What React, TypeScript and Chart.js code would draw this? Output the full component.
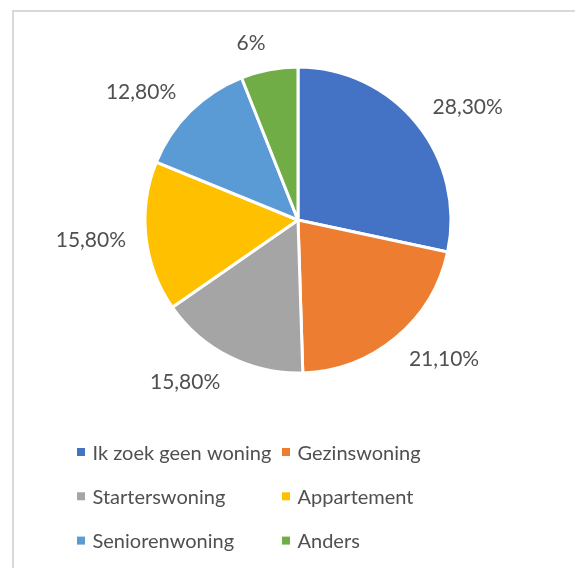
import React, { useEffect, useRef } from "react";
import { Chart, registerables } from "chart.js";

Chart.register(...registerables);

// ---- data ----
const categories = [
  "Ik zoek geen woning",
  "Gezinswoning",
  "Starterswoning",
  "Appartement",
  "Seniorenwoning",
  "Anders",
];
const percentages = [28.3, 21.1, 15.8, 15.8, 12.8, 6];
const colors = ["#4472C4", "#ED7D31", "#A5A5A5", "#FFC000", "#5B9BD5", "#70AD47"];

// ---- styling ----
const FONT = "Lato, 'Open Sans', sans-serif";
const TEXT_COLOR = "#505050";
const LABEL_FONT_SIZE = 21;
const LEGEND_FONT_SIZE = 20;
const CAP_H = 15;

const fmt = (v: number) =>
  Number.isInteger(v) ? `${v}%` : v.toFixed(2).replace(".", ",") + "%";

const labelPlugin = {
  id: "outsideLabels",
  afterDatasetsDraw(chart: any) {
    const ctx = chart.ctx;
    const meta = chart.getDatasetMeta(0);
    ctx.save();
    ctx.font = `${LABEL_FONT_SIZE}px ${FONT}`;
    ctx.fillStyle = TEXT_COLOR;
    ctx.textAlign = "center";
    ctx.textBaseline = "alphabetic";
    meta.data.forEach((arc: any, i: number) => {
      const { x, y, startAngle, endAngle, outerRadius } = arc.getProps(
        ["x", "y", "startAngle", "endAngle", "outerRadius"],
        true
      );
      const mid = (startAngle + endAngle) / 2;
      const dx = Math.cos(mid);
      const dy = Math.sin(mid);
      const text = fmt(percentages[i]);
      const w = ctx.measureText(text).width;
      const R = outerRadius + 20;
      const cx = x + dx * R + Math.sign(dx) * (w / 2);
      const cy = y + dy * R + dy * (CAP_H / 2);
      ctx.fillText(text, cx, cy + CAP_H / 2);
    });
    ctx.restore();
  },
};

const LEG_X = 77;
const LEG_COL_W = 205;
const LEG_Y = 452;
const LEG_ROW_H = 44.3;

const legendPlugin = {
  id: "gridLegend",
  afterDraw(chart: any) {
    const ctx = chart.ctx;
    const labels: string[] = chart.data.labels;
    const bg: string[] = chart.data.datasets[0].backgroundColor;
    ctx.save();
    ctx.font = `${LEGEND_FONT_SIZE}px ${FONT}`;
    ctx.textAlign = "left";
    ctx.textBaseline = "alphabetic";
    labels.forEach((c, i) => {
      const col = i % 2;
      const row = Math.floor(i / 2);
      const x = LEG_X + col * LEG_COL_W;
      const y = LEG_Y + row * LEG_ROW_H;
      ctx.fillStyle = bg[i];
      ctx.fillRect(x, y - 4, 8, 8);
      ctx.fillStyle = TEXT_COLOR;
      ctx.fillText(c, x + 15.5, y + 7.5);
    });
    ctx.restore();
  },
};

export default function App() {
  const ref = useRef<HTMLCanvasElement | null>(null);

  useEffect(() => {
    if (!ref.current) return;
    const chart = new Chart(ref.current, {
      type: "pie",
      data: {
        labels: categories,
        datasets: [
          {
            data: percentages,
            backgroundColor: colors,
            borderColor: "#ffffff",
            borderWidth: 3,
            radius: 153,
          } as any,
        ],
      },
      options: {
        responsive: false,
        animation: false,
        devicePixelRatio: 1,
        events: [],
        layout: { padding: { left: 21, right: 0, top: 0, bottom: 128 } },
        plugins: {
          legend: { display: false },
          tooltip: { enabled: false },
          title: { display: false },
        },
      },
      plugins: [labelPlugin, legendPlugin],
    });
    return () => chart.destroy();
  }, []);

  return (
    <div
      style={{
        position: "fixed",
        left: 0,
        top: 0,
        width: 575,
        height: 568,
        background: "#ffffff",
        overflow: "hidden",
      }}
    >
      <div
        style={{
          position: "absolute",
          left: 12,
          top: 10,
          width: 620,
          height: 620,
          borderLeft: "2px solid #d9d9d9",
          borderTop: "2px solid #d9d9d9",
        }}
      />
      <canvas
        ref={ref}
        width={575}
        height={568}
        style={{ position: "absolute", left: 0, top: 0, width: 575, height: 568 }}
      />
    </div>
  );
}
